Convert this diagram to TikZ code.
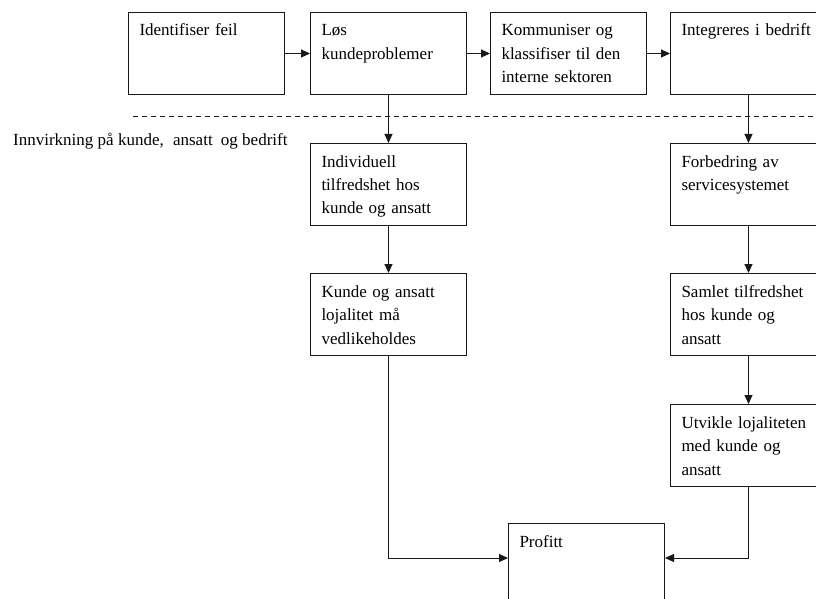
\documentclass[tikz,border=0pt]{standalone}
\usepackage{fontspec}
\setmainfont{Liberation Serif}
\usetikzlibrary{arrows.meta}

\begin{document}
\begin{tikzpicture}[
      x=1pt, y=-1pt,
      font=\fontsize{17pt}{23.5pt}\selectfont,
      stepbox/.style={draw=black!90,line width=1pt,anchor=north west,align=left,
        text width=134pt,inner xsep=11pt,inner ysep=7pt,text height=16.5pt,text depth=51.5pt},
      conn/.style={line width=1pt,draw=black!90,-{Triangle[length=9pt,width=8pt]}},
      border/.style={line width=0.9pt,draw=black!90,dash pattern=on 5pt off 4pt}
    ]
    \clip (0,0) rectangle (816,599);
    % Draw the steps along the top.
    \node[stepbox] (ident) at (128,12) {Identifiser feil};
    \node[stepbox] (loes)  at (310,12) {Løs\\kundeproblemer};
    \node[stepbox] (komm)  at (490,12) {Kommuniser og\\klassifiser til den\\interne sektoren};
    \node[stepbox] (integ) at (670,12) {Integreres i bedrift};
    % Draw the dividing line and its label.
    \draw[border] (133,116) -- (816,116);
    \node[anchor=base west,inner sep=0pt] (innv) at (13,146) {Innvirkning på kunde,\hspace{5pt} ansatt\hspace{4pt} og bedrift};
    % Draw the effects.
    \node[stepbox] (indiv)   at (310,143) {Individuell\\tilfredshet hos\\kunde og ansatt};
    \node[stepbox] (lojal)   at (310,273) {Kunde og ansatt\\lojalitet må\\vedlikeholdes};
    \node[stepbox] (forbed)  at (670,143) {Forbedring av\\servicesystemet};
    \node[stepbox] (samlet)  at (670,273) {Samlet tilfredshet\\hos kunde og\\ansatt};
    \node[stepbox] (utvikle) at (670,404) {Utvikle lojaliteten\\med kunde og\\ansatt};
    \node[stepbox] (profitt) at (508,523) {Profitt};
    % Draw the connections.
    \draw[conn] (ident) -- (loes);
    \draw[conn] (loes) -- (komm);
    \draw[conn] (komm) -- (integ);
    \draw[conn] (loes) -- (indiv);
    \draw[conn] (indiv) -- (lojal);
    \draw[conn] (integ) -- (forbed);
    \draw[conn] (forbed) -- (samlet);
    \draw[conn] (samlet) -- (utvikle);
    \draw[conn] (lojal.south) |- ([yshift=-35pt]profitt.north west);
    \draw[conn] (utvikle.south) |- ([yshift=-35pt]profitt.north east);
\end{tikzpicture}
\end{document}
